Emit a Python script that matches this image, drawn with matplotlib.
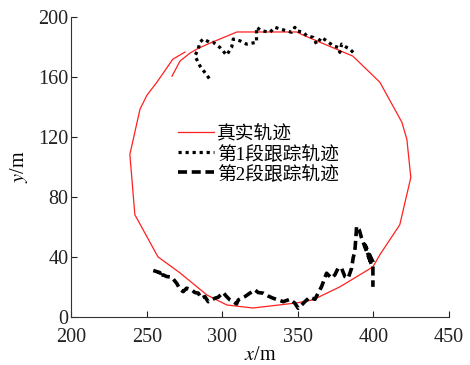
import matplotlib
matplotlib.use("Agg")
import matplotlib.pyplot as plt

# True trajectory (red)
true_x = [266.6, 271.9, 278.5, 283.1, 290.4, 309.6, 331.5, 349.3, 353.3, 386.4, 404.3,
          418.9, 422.2, 424.8, 417.5, 404.3, 399.7, 377.8, 359.9, 349.3, 320.2, 303.0,
          289.7, 271.9, 257.3, 242.0, 238.7, 245.4, 250.0, 256.6, 267.2, 275.2]
true_y = [160.5, 170.6, 175.9, 178.6, 182.0, 190.0, 190.0, 190.0, 188.0, 173.9, 156.5,
          129.8, 118.4, 93.0, 61.5, 41.5, 33.4, 20.1, 11.4, 9.4, 6.0, 8.0,
          14.7, 29.4, 40.1, 68.2, 108.4, 138.5, 147.8, 156.5, 171.9, 176.6]

# Segment 1 tracking trajectory (dotted)
seg1_x = [291.3, 285.1, 281.8, 284.0, 285.1, 287.3, 291.7, 293.9, 298.3, 302.8, 306.1,
          307.2, 311.6, 316.0, 322.6, 322.6, 322.6, 326.0, 331.5, 334.8, 338.1, 342.5,
          345.8, 348.0, 349.1, 353.5, 355.8, 360.1, 362.4, 365.7, 369.0, 373.4, 376.7,
          377.8, 379.0, 382.3, 384.4, 387.7]
seg1_y = [159.0, 167.4, 174.1, 178.6, 183.1, 185.3, 183.1, 183.1, 179.7, 174.6, 179.7,
          185.3, 184.1, 181.9, 183.1, 189.8, 193.1, 190.8, 189.8, 193.1, 192.0, 190.8,
          189.8, 193.1, 190.8, 189.8, 187.5, 186.4, 181.9, 186.4, 184.1, 180.8, 179.7,
          176.4, 181.9, 179.7, 178.6, 175.3]

# Segment 2 tracking trajectory (dashed)
seg2_x = [254.2, 258.6, 257.5, 260.8, 263.0, 266.4, 269.7, 271.9, 274.0, 276.3, 279.6,
          281.8, 284.0, 286.2, 288.4, 290.6, 292.8, 295.0, 297.2, 300.5, 302.8, 305.0,
          307.2, 309.4, 310.5, 312.7, 314.9, 318.2, 321.5, 323.7, 327.0, 330.3, 333.6,
          337.0, 340.3, 344.7, 348.0, 350.2, 352.5, 354.6, 357.9, 361.3, 363.4, 365.7,
          369.0, 372.3, 374.5, 376.7, 378.9, 381.1, 383.3, 385.6, 386.6, 387.7, 388.4,
          388.9, 390.6, 392.2, 395.5, 398.8, 394.4, 399.7, 399.7]
seg2_y = [31.0, 29.6, 27.4, 28.1, 27.0, 26.6, 22.5, 18.5, 16.9, 19.2, 18.1,
          16.3, 15.9, 12.5, 13.6, 10.2, 11.4, 12.5, 13.2, 16.3, 13.6, 11.4,
          10.2, 8.7, 11.4, 12.5, 13.6, 15.9, 18.1, 16.3, 15.9, 14.0, 12.5,
          11.4, 10.2, 11.8, 9.2, 5.8, 8.0, 10.2, 13.2, 11.8, 15.9, 20.3,
          29.2, 25.9, 28.1, 32.6, 32.6, 27.0, 25.9, 32.6, 39.3, 43.7, 52.6,
          60.4, 58.2, 52.6, 43.7, 34.8, 48.2, 36.8, 20.1]

labels = ["真实轨迹", "第1段跟踪轨迹", "第2段跟踪轨迹"]
x_ticks = [200, 250, 300, 350, 400, 450]
y_ticks = [0, 40, 80, 120, 160, 200]

plt.rcParams['font.family'] = ['Liberation Serif', 'Noto Sans CJK SC']
plt.rcParams['mathtext.fontset'] = 'stix'

fig = plt.figure(figsize=(4.70, 3.65), dpi=100)
ax = fig.add_axes([0.152, 0.1315, 0.803, 0.822])

ax.plot(true_x, true_y, color='#ff2020', lw=0.9, label=labels[0])
ax.plot(seg1_x, seg1_y, color='black', lw=2.3, linestyle=(0, (1, 1.2)), label=labels[1])
ax.plot(seg2_x, seg2_y, color='black', lw=2.6, linestyle=(0, (2.5, 1.3)), label=labels[2])

ax.set_xlim(200, 450)
ax.set_ylim(0, 200)
ax.set_xticks(x_ticks)
ax.set_yticks(y_ticks)
ax.spines['top'].set_visible(False)
ax.spines['right'].set_visible(False)
for s in ('left', 'bottom'):
    ax.spines[s].set_linewidth(0.8)
    ax.spines[s].set_color('#333333')
ax.tick_params(direction='in', length=4, width=0.8, labelsize=14.5, colors='#222222')
ax.tick_params(axis='x', pad=8)
ax.tick_params(axis='y', pad=2)

ax.set_xlabel(r'$x$/m', fontsize=14.5, labelpad=-1)
ax.set_ylabel(r'$y$/m', fontsize=14.5, labelpad=6)

leg = ax.legend(loc='upper left', bbox_to_anchor=(0.262, 0.665), frameon=False,
                fontsize=13.5, handlelength=1.95, handletextpad=0.15,
                labelspacing=0.12, borderaxespad=0)

fig.savefig('out.png', dpi=100)
